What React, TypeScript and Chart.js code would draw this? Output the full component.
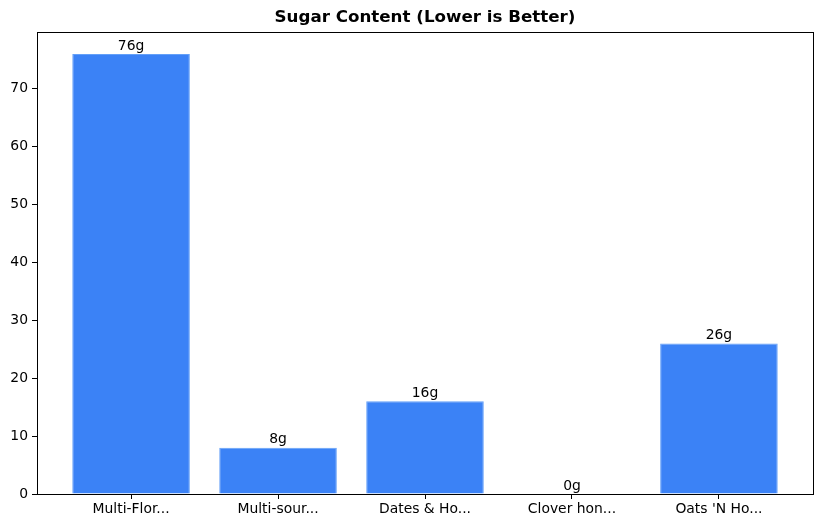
import { useEffect, useRef } from "react";
import { Chart, registerables } from "chart.js";

Chart.register(...registerables);

const categories = ["Multi-Flor...", "Multi-sour...", "Dates & Ho...", "Clover hon...", "Oats 'N Ho..."];
const sugarGrams = [76, 8, 16, 0, 26];
const yTickValues = [0, 10, 20, 30, 40, 50, 60, 70];
const chartTitle = "Sugar Content (Lower is Better)";

const FONT = "'DejaVu Sans', sans-serif";

const framePlugin = {
  id: "frame",
  afterDraw(chart: Chart) {
    const { ctx, chartArea } = chart;
    ctx.save();
    ctx.strokeStyle = "#000";
    ctx.lineWidth = 1;
    ctx.strokeRect(chartArea.left + 0.5, chartArea.top + 0.5, chartArea.right - chartArea.left, chartArea.bottom - chartArea.top);
    ctx.fillStyle = "#000";
    ctx.font = `bold 16.7px ${FONT}`;
    ctx.textAlign = "center";
    ctx.textBaseline = "middle";
    ctx.fillText(chartTitle, (chartArea.left + chartArea.right) / 2, 18);
    ctx.restore();
  },
  afterDatasetsDraw(chart: Chart) {
    const { ctx } = chart;
    const meta = chart.getDatasetMeta(0);
    ctx.save();
    ctx.fillStyle = "#000";
    ctx.font = `13.9px ${FONT}`;
    ctx.textAlign = "center";
    ctx.textBaseline = "bottom";
    meta.data.forEach((el: any, i: number) => {
      ctx.fillText(`${sugarGrams[i]}g`, el.x, el.y - 1);
    });
    ctx.restore();
  },
};

export default function App() {
  const canvasRef = useRef<HTMLCanvasElement>(null);

  useEffect(() => {
    document.body.style.margin = "0";
    if (!canvasRef.current) return;
    const chart = new Chart(canvasRef.current, {
      type: "bar",
      data: {
        datasets: [
          {
            data: sugarGrams.map((v, i) => ({ x: i, y: v })),
            backgroundColor: "#3b82f6",
            borderColor: "#64a0f8",
            borderWidth: 1,
            barPercentage: 0.8,
            categoryPercentage: 1,
          },
        ],
      },
      options: {
        animation: false,
        responsive: false,
        devicePixelRatio: 1,
        layout: { padding: { top: 32, right: 9, left: 0, bottom: 0 } },
        plugins: { legend: { display: false }, tooltip: { enabled: false }, title: { display: false } },
        scales: {
          x: {
            type: "linear",
            min: -0.64,
            max: 4.64,
            offset: false,
            afterBuildTicks: (scale: any) => {
              scale.ticks = categories.map((_, i) => ({ value: i }));
            },
            afterFit: (scale: any) => {
              scale.height = 34;
            },
            ticks: {
              color: "#000",
              font: { family: FONT, size: 13.9 },
              padding: 2,
              maxRotation: 0,
              autoSkip: false,
              callback: (v: any) => categories[v] ?? "",
            },
            grid: { display: true, drawOnChartArea: false, offset: false, tickLength: 5, color: "#000" },
            border: { display: true, color: "#000" },
          },
          y: {
            min: 0,
            max: 79.8,
            afterBuildTicks: (scale: any) => {
              scale.ticks = yTickValues.map((v) => ({ value: v }));
            },
            afterFit: (scale: any) => {
              scale.width = 37;
            },
            ticks: {
              color: "#000",
              font: { family: FONT, size: 13.9 },
              padding: 4,
            },
            grid: { display: true, drawOnChartArea: false, tickLength: 5, color: "#000" },
            border: { display: true, color: "#000" },
          },
        },
      },
      plugins: [framePlugin],
    } as any);
    return () => chart.destroy();
  }, []);

  return (
    <div style={{ width: 822, height: 528, background: "#fff" }}>
      <canvas ref={canvasRef} width={822} height={528} style={{ display: "block" }} />
    </div>
  );
}
